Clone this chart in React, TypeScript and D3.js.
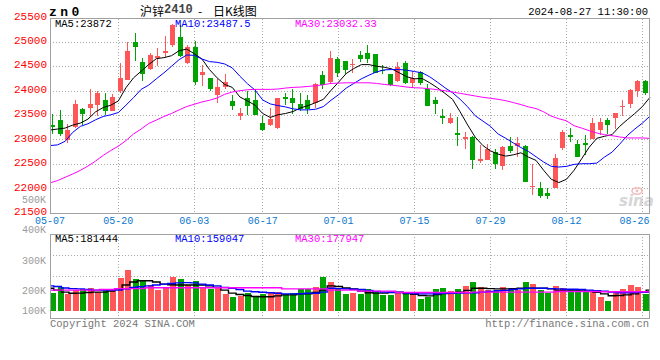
import React from "react";
import * as d3 from "d3";

const dates = [
  "05-07","05-08","05-09","05-10","05-13","05-14","05-15","05-16","05-17","05-20",
  "05-21","05-22","05-23","05-24","05-27","05-28","05-29","05-30","05-31",
  "06-03","06-04","06-05","06-06","06-07","06-11","06-12","06-13","06-14","06-17",
  "06-18","06-19","06-20","06-21","06-24","06-25","06-26","06-27","06-28",
  "07-01","07-02","07-03","07-04","07-05","07-08","07-09","07-10","07-11","07-12",
  "07-15","07-16","07-17","07-18","07-19","07-22","07-23","07-24","07-25","07-26",
  "07-29","07-30","07-31","08-01","08-02","08-05","08-06","08-07","08-08","08-09",
  "08-12","08-13","08-14","08-15","08-16","08-19","08-20","08-21","08-22","08-23",
  "08-26","08-27",
];

const open = [
  23300,23405,23005,23270,23630,23650,23710,23810,23595,24000,
  24235,25000,24595,24455,24675,24770,24935,25115,24575,24900,
  24325,24270,23910,24080,23800,23495,23865,23810,23345,23305,
  23245,23885,23850,23730,23820,23750,24320,24185,24655,24610,
  24535,24745,24775,24765,24440,24340,24205,24575,24170,24390,
  24045,23820,23495,23340,23140,23020,23055,22560,22600,22750,
  22460,22885,22870,22885,22040,22025,21925,22025,22845,23110,
  22920,22940,23020,23205,23410,23445,23675,23730,24000,24205,
];
const high = [
  23540,23610,23320,23810,23660,24035,24000,23955,23940,24575,
  25000,25195,24675,24775,24880,25135,25370,25350,24945,25015,
  24525,24270,24240,24340,23910,23660,24000,24035,23495,23660,
  23865,23955,24035,23965,23915,24170,24405,24825,24695,24610,
  24655,24825,24945,24765,24540,24350,24590,24620,24405,24420,
  24150,23885,23630,23560,23475,23155,23090,22900,22920,22820,
  22885,23070,23055,22900,22500,22140,22020,22715,23205,23245,
  23005,23100,23445,23445,23445,23560,23810,24035,24235,24225,
];
const low = [
  23120,23075,22935,23235,23305,23495,23495,23505,23590,23965,
  24225,24610,24205,24440,24520,24695,24910,24695,24555,24115,
  24100,24000,23765,24035,23615,23410,23505,23505,23190,23290,
  23225,23710,23525,23595,23540,23660,24035,24135,24290,24340,
  24370,24590,24575,24360,24340,24100,24185,24135,24070,24120,
  23685,23525,23325,23325,22885,22805,22400,22525,22580,22410,
  22380,22735,22660,22130,21870,21820,21790,22020,22785,22955,
  22650,22685,23020,23110,23120,23225,23495,23650,23885,23910,
];
const close = [
  23270,23120,23205,23725,23525,23730,23955,23595,23885,24270,
  24825,24910,24350,24745,24710,24810,25350,24710,24900,24185,
  24390,24035,24090,24185,23695,23560,23695,23505,23210,23425,
  23850,23830,23765,23640,23640,24135,24115,24675,24370,24440,
  24560,24660,24655,24370,24405,24130,24495,24170,24270,24170,
  23695,23730,23455,23445,23110,23070,22580,22615,22820,22500,
  22865,22770,22940,22140,22055,21850,21850,22635,23155,23070,
  22660,22905,23345,23360,23310,23545,23695,24020,24215,23965,
];

const ma5 = [
  23203,23223,23243,23304,23345,23426,23575,23662,23710,23798,
  24068,24270,24406,24541,24662,24683,24723,24825,24858,24764,
  24656,24440,24270,24135,24075,23879,23798,23710,23541,23460,
  23514,23541,23581,23656,23703,23764,23831,24014,24183,24358,
  24460,24541,24541,24507,24487,24453,24372,24291,24250,24257,
  24169,24068,23953,23831,23575,23304,23054,22885,22777,22710,
  22669,22696,22737,22649,22581,22379,22196,22129,22196,22379,
  22615,22852,23034,23075,23108,23277,23412,23541,23683,23872,
];
const ma10 = [
  22885,22899,22973,23156,23277,23331,23412,23480,23514,23561,
  23710,23865,24034,24122,24250,24372,24507,24642,24737,24730,
  24656,24602,24588,24554,24473,24304,24149,24020,23818,23737,
  23703,23676,23636,23615,23615,23629,23683,23811,23926,24061,
  24156,24250,24325,24392,24433,24440,24440,24426,24399,24372,
  24291,24183,24068,23966,23831,23676,23493,23385,23277,23122,
  23034,22939,22845,22764,22656,22548,22460,22446,22460,22500,
  22514,22514,22527,22649,22750,22913,23088,23223,23345,23488,
];
const ma30 = [
  22122,22169,22237,22304,22379,22466,22568,22683,22784,22872,
  22987,23122,23223,23338,23406,23480,23541,23615,23683,23730,
  23777,23811,23858,23933,23980,24007,24027,24034,24034,24034,
  24041,24061,24075,24081,24095,24108,24129,24156,24162,24169,
  24169,24169,24169,24156,24135,24122,24102,24081,24068,24061,
  24047,24027,24007,23980,23953,23926,23899,23872,23852,23831,
  23804,23764,23723,23676,23642,23575,23487,23433,23392,23291,
  23243,23189,23142,23108,23088,23061,23041,23041,23041,23032,
];

// volume, thousands of lots
const volK = [
  190,211,183,202,205,210,195,202,205,243,
  269,239,236,219,202,210,247,239,219,233,
  213,207,213,185,170,175,187,175,183,187,
  195,183,190,205,205,213,247,230,208,183,
  190,183,205,200,178,178,195,183,178,158,
  170,206,210,200,206,215,230,212,202,198,
  212,205,202,230,223,202,190,217,210,205,
  206,195,201,168,150,195,206,220,212,185,
];
const volMa5 = [
  208,202,193,187,188,191,193,193,198,206,
  219,229,233,233,229,222,220,219,219,219,
  219,216,211,202,188,181,176,171,170,170,
  174,179,179,184,184,191,202,216,214,209,
  206,198,190,188,188,191,192,186,182,176,
  174,181,186,190,193,201,208,208,207,206,
  206,207,208,208,208,208,206,202,202,202,
  202,198,192,184,175,176,179,184,192,202,
];
const volMa10 = [
  216,214,209,207,206,204,202,202,202,202,
  206,211,213,216,219,222,224,226,227,226,
  222,219,216,211,208,204,198,195,192,190,
  187,184,184,185,187,187,193,208,207,206,
  205,204,201,196,193,192,191,188,186,184,
  184,185,187,187,188,190,190,193,196,200,
  201,204,206,208,208,208,207,206,205,205,
  204,202,200,197,193,190,190,191,192,192,
];
const volMa30 = [
  202,202,202,202,202,202,202,204,204,207,
  207,207,207,210,210,210,210,210,210,210,
  210,210,210,210,210,210,210,210,210,210,
  210,206,206,206,206,206,206,202,202,202,
  202,198,198,198,198,198,191,191,191,191,
  191,191,191,191,191,191,193,193,193,193,
  193,193,193,193,193,193,193,196,196,196,
  196,196,196,195,195,195,195,195,195,195,
];

const priceTicks = [21500, 22000, 22500, 23000, 23500, 24000, 24500, 25000, 25500];
const volTicks = [100, 200, 300, 400, 500];
const dateTicks = ["05-07", "05-20", "06-03", "06-17", "07-01", "07-15", "07-29", "08-12", "08-26"];

const symbol = "zn0";
const titleName = "沪锌";
const titleCode = "2410";
const titleDash = "-";
const titleRest = "日K线图";
const stamp = "2024-08-27 11:30:00";
const priceLegend = ["MA5:23872", "MA10:23487.5", "MA30:23032.33"];
const volLegend = ["MA5:181444", "MA10:159047", "MA30:177947"];
const copyright = "Copyright 2024 SINA.COM";
const site = "http://finance.sina.com.cn";

const RED = "#ff5757";
const GREEN = "#00a300";
const GRID = "#a8a8a8";
const BORDER = "#a0a0a0";
const MONO = "'Liberation Mono', 'DejaVu Sans Mono', monospace";
const maColors = ["#000000", "#0000ff", "#ff00ff"];

export default function App() {
  const L = 50, R = 649.5, T = 18.5, B = 213.3;
  const VT = 234.3, VB = 318.3;
  const n = dates.length;
  const idx = d3.range(n);

  const xBand = d3.scaleBand<number>().domain(idx).range([50, 650]).padding(0);
  const xPt = d3.scalePoint<number>().domain(idx).range([50, 650]);
  const y = d3.scaleLinear().domain([21500, 25500]).range([213.3, 17.7]);
  const yv = d3.scaleLinear().domain(volTicks).range([310.7, 290.7, 260.7, 229.7, 200]);

  const mkLine = (arr: number[], sc: d3.ScaleLinear<number, number>, curve = d3.curveLinear) =>
    d3.line<number>().x((_, i) => xPt(i) as number).y((v) => sc(v)).curve(curve)(arr) || "";

  const bodyW = xBand.bandwidth() * (2 / 3);
  const volW = xBand.bandwidth() * 0.8;
  const gridIdx = dateTicks.map((d) => dates.indexOf(d)).filter((i) => i > 0 && i < n - 1);
  const vGrid = [1, 2].map((k) => VT + ((VB - VT) * k) / 4);

  return (
    <svg width={660} height={360} style={{ position: "fixed", left: 0, top: 0, background: "#fff" }}>
      <rect x={0} y={0} width={660} height={360} fill="#fff" />
      {/* header */}
      <text x={49} y={12} fontFamily={MONO} fontWeight="bold" fontSize={13} letterSpacing={3.5} dominantBaseline="central">
        {symbol}
      </text>
      <g fontSize={12} fontFamily="'Noto Sans CJK SC', sans-serif">
        <text x={140} y={10} dominantBaseline="central">
          <tspan>{titleName}</tspan>
          <tspan fill="#444" fontFamily={MONO} fontWeight="bold">{titleCode}</tspan>
        </text>
        <text x={200} y={10} textAnchor="middle" dominantBaseline="central">{titleDash}</text>
        <text x={213} y={10} dominantBaseline="central">{titleRest}</text>
      </g>
      <text x={648} y={12} textAnchor="end" fontFamily={MONO} fontSize={10.5} dominantBaseline="central">
        {stamp}
      </text>

      {/* main grid */}
      <g shapeRendering="crispEdges">
        {priceTicks.slice(1, -1).map((p) => (
          <line key={p} x1={L} x2={R} y1={y(p)} y2={y(p)} stroke={GRID} strokeDasharray="1,2" />
        ))}
        {gridIdx.map((i) => (
          <line key={i} x1={xPt(i)} x2={xPt(i)} y1={T} y2={B} stroke={GRID} strokeDasharray="1,2" />
        ))}
        {gridIdx.map((i) => (
          <line key={"v" + i} x1={xPt(i)} x2={xPt(i)} y1={VT} y2={VB} stroke={GRID} strokeDasharray="1,2" />
        ))}
        {vGrid.map((g) => (
          <line key={g} x1={L} x2={R} y1={g} y2={g} stroke={GRID} strokeDasharray="1,2" />
        ))}
      </g>

      {/* watermark */}
      <g opacity={0.9}>
        <ellipse cx={637} cy={191} rx={5} ry={3.2} fill="none" stroke="#f3b5b5" strokeWidth={1.6} />
        <circle cx={637} cy={191} r={1.4} fill="#f3b5b5" />
        <text x={619} y={206} fontFamily="'DejaVu Sans', sans-serif" fontWeight="bold" fontStyle="italic" fontSize={15} fill="#d2d2d2">
          sina
        </text>
      </g>

      {/* candles */}
      <g shapeRendering="crispEdges">
        {idx.map((i) => {
          const up = close[i] >= open[i];
          const col = up ? RED : GREEN;
          const bx = xBand(i) as number;
          const top = y(Math.max(open[i], close[i]));
          const h = Math.max(1, Math.abs(y(open[i]) - y(close[i])));
          return (
            <g key={i}>
              <rect x={bx + bodyW / 2 - 0.5} y={y(high[i])} width={1} height={y(low[i]) - y(high[i])} fill={col} />
              <rect x={bx} y={top} width={bodyW} height={h} fill={col} />
            </g>
          );
        })}
      </g>

      {/* price MA lines */}
      {[ma5, ma10, ma30].map((arr, k) => (
        <path key={k} d={mkLine(arr, y)} fill="none" stroke={maColors[k]} strokeWidth={1} />
      ))}

      {/* price legend */}
      {priceLegend.map((t, k) => (
        <text key={t} x={55 + k * 120} y={24} fontFamily={MONO} fontSize={10.5} fill={maColors[k]} dominantBaseline="central">
          {t}
        </text>
      ))}

      {/* price axis labels */}
      {priceTicks.map((p) => (
        <text key={p} x={47} y={y(p) - 1.2} textAnchor="end" fontFamily={MONO} fontSize={11} fill="#ff0000" dominantBaseline="central">
          {p}
        </text>
      ))}

      {/* date labels */}
      {dateTicks.map((d) => {
        const i = dates.indexOf(d);
        const cx = Math.min(xPt(i) as number, 649 - 14.5);
        return (
          <text key={d} x={cx} y={221.5} textAnchor="middle" fontFamily={MONO} fontSize={10} fill="#0a78cf" dominantBaseline="central">
            {d}
          </text>
        );
      })}

      {/* volume bars */}
      <g shapeRendering="crispEdges">
        {idx.map((i) => {
          const up = close[i] >= open[i];
          return (
            <rect
              key={i}
              x={xBand(i) as number}
              y={yv(volK[i])}
              width={volW}
              height={yv(volTicks[0]) - yv(volK[i])}
              fill={up ? RED : GREEN}
            />
          );
        })}
      </g>
      {[volMa5, volMa10, volMa30].map((arr, k) => (
        <path key={k} d={mkLine(arr, yv, d3.curveStep)} fill="none" stroke={maColors[k]} strokeWidth={1.4} />
      ))}

      {/* volume axis labels */}
      {volTicks.map((v) => (
        <text key={v} x={46} y={yv(v) + 0.8} textAnchor="end" fontFamily={MONO} fontSize={10} fill="#9a9a9a" dominantBaseline="central">
          {v + "K"}
        </text>
      ))}

      {/* volume legend */}
      {volLegend.map((t, k) => (
        <text key={t} x={55 + k * 120} y={238.5} fontFamily={MONO} fontSize={10.5} fill={maColors[k]} dominantBaseline="central">
          {t}
        </text>
      ))}

      {/* borders */}
      <g shapeRendering="crispEdges" fill="none" stroke={BORDER}>
        <line x1={L} x2={R} y1={T} y2={T} />
        <line x1={L} x2={R} y1={B} y2={B} />
        <line x1={L} x2={L} y1={T} y2={B} />
        <line x1={R} x2={R} y1={T} y2={B} />
        <line x1={L} x2={R} y1={VT} y2={VT} />
        <line x1={L} x2={R} y1={VB} y2={VB} />
        <line x1={L} x2={L} y1={VT} y2={VB} />
        <line x1={R} x2={R} y1={VT} y2={VB} />
      </g>

      {/* footer */}
      <text x={50} y={323.5} fontFamily={MONO} fontSize={10.5} fill="#777" dominantBaseline="central">
        {copyright}
      </text>
      <text x={649} y={323.5} textAnchor="end" fontFamily={MONO} fontSize={10.5} fill="#777" dominantBaseline="central">
        {site}
      </text>
    </svg>
  );
}
